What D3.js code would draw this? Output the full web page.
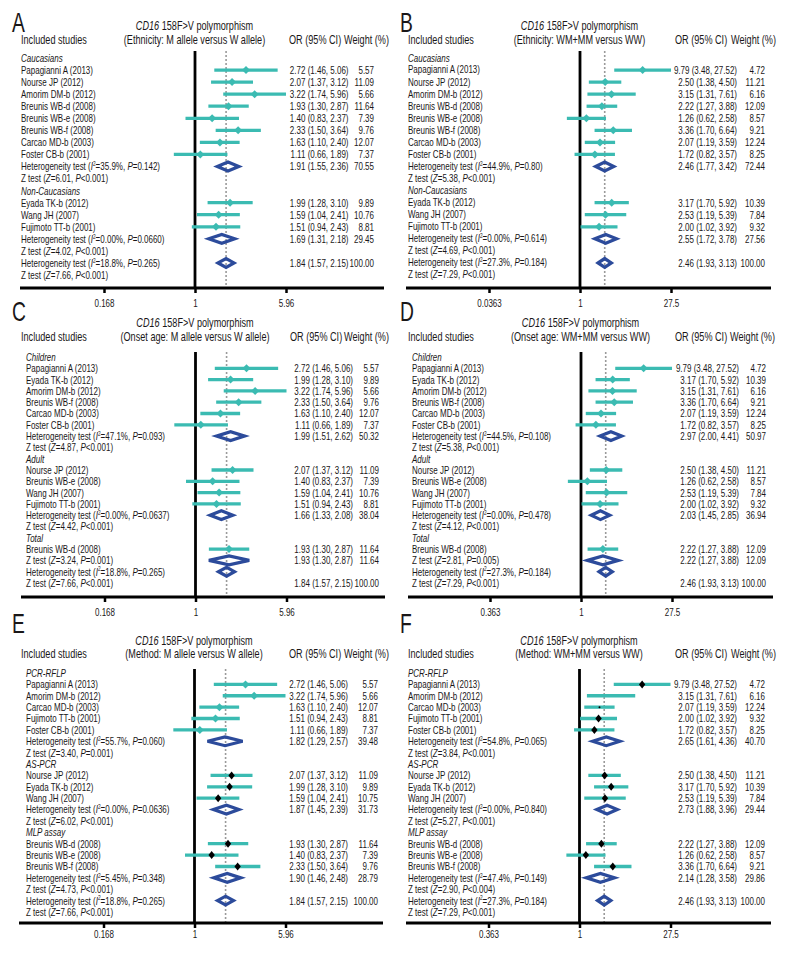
<!DOCTYPE html>
<html><head><meta charset="utf-8">
<script src="https://cdn.jsdelivr.net/npm/d3@7"></script>
<style>
body{margin:0;background:#fff}
svg{display:block}
text{font-family:"Liberation Sans Narrow","Arial Narrow","Liberation Sans",Arial,sans-serif;fill:#1a1718}
</style></head><body>
<svg id="chart" width="792" height="960"></svg>
<script>
// ---------------- DATA ----------------
const TITLE1 = "*CD16* 158F>V polymorphism";
const titles2 = ["(Ethnicity: M allele versus W allele)","(Ethnicity: WM+MM versus WW)",
  "(Onset age: M allele versus W allele)","(Onset age: WM+MM versus WW)",
  "(Method: M allele versus W allele)","(Method: WM+MM versus WW)"];
const letters = ["A","B","C","D","E","F"];
const tickValsM = [1/5.96, 1, 5.96];
const tickValsW = [1/27.5, 1, 27.5];
const tickLabA = ["0.168","1","5.96"];
const tickLabB = ["0.0363","1","27.5"];
const tickLabD = ["0.363","1","27.5"];

// Panel A
const A_labels = ["*Caucasians*","Papagianni A (2013)","Nourse JP (2012)","Amorim DM-b (2012)","Breunis WB-d (2008)","Breunis WB-e (2008)","Breunis WB-f (2008)","Carcao MD-b (2003)","Foster CB-b (2001)","Heterogeneity test (*I*^2^=35.9%, *P*=0.142)","Z test (*Z*=6.01, *P*<0.001)","*Non-Caucasians*","Eyada TK-b (2012)","Wang JH (2007)","Fujimoto TT-b (2001)","Heterogeneity test (*I*^2^=0.00%, *P*=0.0660)","Z test (*Z*=4.02, *P*<0.001)","Heterogeneity test (*I*^2^=18.8%, *P*=0.265)","Z test (*Z*=7.66, *P*<0.001)"];
const A_mark = ["","s","s","s","s","s","s","s","s","d","","","s","s","s","d","","d",""];
const A_est = [null,2.72,2.07,3.22,1.93,1.40,2.33,1.63,1.11,1.91,null,null,1.99,1.59,1.51,1.69,null,1.84,null];
const A_lo  = [null,1.46,1.37,1.74,1.30,0.83,1.50,1.10,0.66,1.55,null,null,1.28,1.04,0.94,1.31,null,1.57,null];
const A_hi  = [null,5.06,3.12,5.96,2.87,2.37,3.64,2.40,1.89,2.36,null,null,3.10,2.41,2.43,2.18,null,2.15,null];
const A_wt  = [null,5.57,11.09,5.66,11.64,7.39,9.76,12.07,7.37,70.55,null,null,9.89,10.76,8.81,29.45,null,100.00,null];

// Panel B
const B_labels = ["*Caucasians*","Papagianni A (2013)","Nourse JP (2012)","Amorim DM-b (2012)","Breunis WB-d (2008)","Breunis WB-e (2008)","Breunis WB-f (2008)","Carcao MD-b (2003)","Foster CB-b (2001)","Heterogeneity test (*I*^2^=44.9%, *P*=0.80)","Z test (*Z*=5.38, *P*<0.001)","*Non-Caucasians*","Eyada TK-b (2012)","Wang JH (2007)","Fujimoto TT-b (2001)","Heterogeneity test (*I*^2^=0.00%, *P*=0.614)","Z test (*Z*=4.69, *P*<0.001)","Heterogeneity test (*I*^2^=27.3%, *P*=0.184)","Z test (*Z*=7.29, *P*<0.001)"];
const B_mark = A_mark;
const B_est = [null,9.79,2.50,3.15,2.22,1.26,3.36,2.07,1.72,2.46,null,null,3.17,2.53,2.00,2.55,null,2.46,null];
const B_lo  = [null,3.48,1.38,1.31,1.27,0.62,1.70,1.19,0.82,1.77,null,null,1.70,1.19,1.02,1.72,null,1.93,null];
const B_hi  = [null,27.52,4.50,7.61,3.88,2.58,6.64,3.59,3.57,3.42,null,null,5.92,5.39,3.92,3.78,null,3.13,null];
const B_wt  = [null,4.72,11.21,6.16,12.09,8.57,9.21,12.24,8.25,72.44,null,null,10.39,7.84,9.32,27.56,null,100.00,null];

// Panel C
const C_labels = ["*Children*","Papagianni A (2013)","Eyada TK-b (2012)","Amorim DM-b (2012)","Breunis WB-f (2008)","Carcao MD-b (2003)","Foster CB-b (2001)","Heterogeneity test (*I*^2^=47.1%, *P*=0.093)","Z test (*Z*=4.87, *P*<0.001)","*Adult*","Nourse JP (2012)","Breunis WB-e (2008)","Wang JH (2007)","Fujimoto TT-b (2001)","Heterogeneity test (*I*^2^=0.00%, *P*=0.0637)","Z test (*Z*=4.42, *P*<0.001)","*Total*","Breunis WB-d (2008)","Z test (*Z*=3.24, *P*=0.001)","Heterogeneity test (*I*^2^=18.8%, *P*=0.265)","Z test (*Z*=7.66, *P*<0.001)"];
const C_mark = ["","s","s","s","s","s","s","d","","","s","s","s","s","d","","","s","d","D",""];
const C_est = [null,2.72,1.99,3.22,2.33,1.63,1.11,1.99,null,null,2.07,1.40,1.59,1.51,1.66,null,null,1.93,1.93,1.84,null];
const C_lo  = [null,1.46,1.28,1.74,1.50,1.10,0.66,1.51,null,null,1.37,0.83,1.04,0.94,1.33,null,null,1.30,1.30,1.57,null];
const C_hi  = [null,5.06,3.10,5.96,3.64,2.40,1.89,2.62,null,null,3.12,2.37,2.41,2.43,2.08,null,null,2.87,2.87,2.15,null];
const C_wt  = [null,5.57,9.89,5.66,9.76,12.07,7.37,50.32,null,null,11.09,7.39,10.76,8.81,38.04,null,null,11.64,11.64,100.00,null];

// Panel D
const D_labels = ["*Children*","Papagianni A (2013)","Eyada TK-b (2012)","Amorim DM-b (2012)","Breunis WB-f (2008)","Carcao MD-b (2003)","Foster CB-b (2001)","Heterogeneity test (*I*^2^=44.5%, *P*=0.108)","Z test (*Z*=5.38, *P*<0.001)","*Adult*","Nourse JP (2012)","Breunis WB-e (2008)","Wang JH (2007)","Fujimoto TT-b (2001)","Heterogeneity test (*I*^2^=0.00%, *P*=0.478)","Z test (*Z*=4.12, *P*<0.001)","*Total*","Breunis WB-d (2008)","Z test (*Z*=2.81, *P*=0.005)","Heterogeneity test (*I*^2^=27.3%, *P*=0.184)","Z test (*Z*=7.29, *P*<0.001)"];
const D_mark = C_mark;
const D_est = [null,9.79,3.17,3.15,3.36,2.07,1.72,2.97,null,null,2.50,1.26,2.53,2.00,2.03,null,null,2.22,2.22,2.46,null];
const D_lo  = [null,3.48,1.70,1.31,1.70,1.19,0.82,2.00,null,null,1.38,0.62,1.19,1.02,1.45,null,null,1.27,1.27,1.93,null];
const D_hi  = [null,27.52,5.92,7.61,6.64,3.59,3.57,4.41,null,null,4.50,2.58,5.39,3.92,2.85,null,null,3.88,3.88,3.13,null];
const D_wt  = [null,4.72,10.39,6.16,9.21,12.24,8.25,50.97,null,null,11.21,8.57,7.84,9.32,36.94,null,null,12.09,12.09,100.00,null];

// Panel E
const E_labels = ["*PCR-RFLP*","Papagianni A (2013)","Amorim DM-b (2012)","Carcao MD-b (2003)","Fujimoto TT-b (2001)","Foster CB-b (2001)","Heterogeneity test (*I*^2^=55.7%, *P*=0.060)","Z test (*Z*=3.40, *P*=0.001)","*AS-PCR*","Nourse JP (2012)","Eyada TK-b (2012)","Wang JH (2007)","Heterogeneity test (*I*^2^=0.00%, *P*=0.0636)","Z test (*Z*=6.02, *P*<0.001)","*MLP assay*","Breunis WB-d (2008)","Breunis WB-e (2008)","Breunis WB-f (2008)","Heterogeneity test (*I*^2^=5.45%, *P*=0.348)","Z test (*Z*=4.73, *P*<0.001)","Heterogeneity test (*I*^2^=18.8%, *P*=0.265)","Z test (*Z*=7.66, *P*<0.001)"];
const E_mark = ["","s","s","s","s","s","d","","","k","k","k","d","","","k","k","k","d","","d",""];
const E_est = [null,2.72,3.22,1.63,1.51,1.11,1.82,null,null,2.07,1.99,1.59,1.87,null,null,1.93,1.40,2.33,1.90,null,1.84,null];
const E_lo  = [null,1.46,1.74,1.10,0.94,0.66,1.29,null,null,1.37,1.28,1.04,1.45,null,null,1.30,0.83,1.50,1.46,null,1.57,null];
const E_hi  = [null,5.06,5.96,2.40,2.43,1.89,2.57,null,null,3.12,3.10,2.41,2.39,null,null,2.87,2.37,3.64,2.48,null,2.15,null];
const E_wt  = [null,5.57,5.66,12.07,8.81,7.37,39.48,null,null,11.09,9.89,10.75,31.73,null,null,11.64,7.39,9.76,28.79,null,100.00,null];

// Panel F
const F_labels = ["*PCR-RFLP*","Papagianni A (2013)","Amorim DM-b (2012)","Carcao MD-b (2003)","Fujimoto TT-b (2001)","Foster CB-b (2001)","Heterogeneity test (*I*^2^=54.8%, *P*=0.065)","Z test (*Z*=3.84, *P*<0.001)","*AS-PCR*","Nourse JP (2012)","Eyada TK-b (2012)","Wang JH (2007)","Heterogeneity test (*I*^2^=0.00%, *P*=0.840)","Z test (*Z*=5.27, *P*<0.001)","*MLP assay*","Breunis WB-d (2008)","Breunis WB-e (2008)","Breunis WB-f (2008)","Heterogeneity test (*I*^2^=47.4%, *P*=0.149)","Z test (*Z*=2.90, *P*<0.004)","Heterogeneity test (*I*^2^=27.3%, *P*=0.184)","Z test (*Z*=7.29, *P*<0.001)"];
const F_mark = ["","k","n","o","k","k","d","","","k","k","k","d","","","k","k","k","d","","d",""];
const F_est = [null,9.79,3.15,2.07,2.00,1.72,2.65,null,null,2.50,3.17,2.53,2.73,null,null,2.22,1.26,3.36,2.14,null,2.46,null];
const F_lo  = [null,3.48,1.31,1.19,1.02,0.82,1.61,null,null,1.38,1.70,1.19,1.88,null,null,1.27,0.62,1.70,1.28,null,1.93,null];
const F_hi  = [null,27.52,7.61,3.59,3.92,3.57,4.36,null,null,4.50,5.92,5.39,3.96,null,null,3.88,2.58,6.64,3.58,null,3.13,null];
const F_wt  = [null,4.72,6.16,12.24,9.32,8.25,40.70,null,null,11.21,10.39,7.84,29.44,null,null,12.09,8.57,9.21,29.86,null,100.00,null];

// ---------------- LAYOUT ----------------
const TEAL = "#3bbbb2", NAVY = "#2c4b9b";
const layouts = [
 {c:195,  axL:20,  axR:384, nameX:21,  headX:21,  orEnd:348.5, wtEnd:374, orHeadX:289, wtHeadEnd:389, letterX:12,  y0:58,  y1:275, top:51,  axisY:288, tickY:303, t1:25,  t2:39.5, letterY:32,  labelDy:0},
 {c:580,  axL:406, axR:771, nameX:408, headX:408, orEnd:737,   wtEnd:765, orHeadX:675, wtHeadEnd:776, letterX:400, y0:58,  y1:275, top:51,  axisY:288, tickY:303, t1:25,  t2:39.5, letterY:32,  labelDy:-0.5},
 {c:195.5,axL:21,  axR:385, nameX:26,  headX:21,  orEnd:353,   wtEnd:379, orHeadX:290, wtHeadEnd:389, letterX:12,  y0:357, y1:583, top:352, axisY:597, tickY:612, t1:322.5, t2:336,  letterY:321, labelDy:0},
 {c:581,  axL:408, axR:773, nameX:412, headX:408, orEnd:739,   wtEnd:766, orHeadX:675, wtHeadEnd:775, letterX:400, y0:357, y1:583, top:352, axisY:597, tickY:612, t1:322.5, t2:336,  letterY:321, labelDy:0},
 {c:194.5,axL:19,  axR:383, nameX:26,  headX:21,  orEnd:348,   wtEnd:378, orHeadX:289, wtHeadEnd:389, letterX:12,  y0:673, y1:912, top:669, axisY:923, tickY:934, t1:640, t2:653.5,  letterY:633, labelDy:0},
 {c:579.5,axL:406, axR:771, nameX:408, headX:408, orEnd:737,   wtEnd:765, orHeadX:675, wtHeadEnd:776, letterX:400, y0:673, y1:912, top:669, axisY:923, tickY:934, t1:640, t2:653.5,  letterY:633, labelDy:0}
];
const panelData = [
 {labels:A_labels, mark:A_mark, est:A_est, lo:A_lo, hi:A_hi, wt:A_wt, tv:tickValsM, tl:tickLabA},
 {labels:B_labels, mark:B_mark, est:B_est, lo:B_lo, hi:B_hi, wt:B_wt, tv:tickValsW, tl:tickLabB},
 {labels:C_labels, mark:C_mark, est:C_est, lo:C_lo, hi:C_hi, wt:C_wt, tv:tickValsM, tl:tickLabA},
 {labels:D_labels, mark:D_mark, est:D_est, lo:D_lo, hi:D_hi, wt:D_wt, tv:tickValsW, tl:tickLabD},
 {labels:E_labels, mark:E_mark, est:E_est, lo:E_lo, hi:E_hi, wt:E_wt, tv:tickValsM, tl:tickLabA},
 {labels:F_labels, mark:F_mark, est:F_est, lo:F_lo, hi:F_hi, wt:F_wt, tv:tickValsW, tl:tickLabD}
];

// ---------------- DRAW ----------------
const FS = 11.2, FH = 13;
const svg = d3.select("#chart");
function measure(str, size){
  const t = svg.append("text").style("font-size", size+"px").text(str);
  const w = t.node().getComputedTextLength(); t.remove(); return w;
}
const SX = 72 / measure("Papagianni A (2013)", FS);
const SXH = 66 / measure("Included studies", FH);
const f2 = d3.format(".2f");

function rich(g, x, yc, str, size, anchor, sx){
  const t = g.append("text")
    .attr("transform", `translate(${x},${yc + size*0.35}) scale(${sx},1)`)
    .attr("text-anchor", anchor || "start").style("font-size", size+"px");
  const parts = str.split(/(\*[^*]+\*|\^[^^]+\^)/).filter(s => s.length);
  let shifted = false;
  parts.forEach(p => {
    let s;
    if (p[0] === "^") {
      t.append("tspan").attr("dy", -size*0.38).style("font-size", (size*0.6)+"px").text(p.slice(1,-1));
      shifted = true; return;
    }
    if (p[0] === "*") s = t.append("tspan").style("font-style","italic").text(p.slice(1,-1));
    else s = t.append("tspan").text(p);
    if (shifted) { s.attr("dy", size*0.38); shifted = false; }
  });
  return t;
}
function diamond(xl, xc, xr, y, hh){ return `M${xl},${y}L${xc},${y-hh}L${xr},${y}L${xc},${y+hh}Z`; }

panelData.forEach((d, pi) => {
  const L = layouts[pi];
  const g = svg.append("g");
  const n = d.labels.length;
  const x = d3.scaleLog().domain([d.tv[0], d.tv[2]]).range([L.c - 91, L.c + 91]);
  const y = d3.scaleLinear().domain([0, n-1]).range([L.y0, L.y1]);
  const overall = d.est[d.est.length - 2];

  // letter, titles, headers
  g.append("text").attr("transform", `translate(${L.letterX},${L.letterY}) scale(${SX},1)`)
    .style("font-size","27px").text(letters[pi]);
  rich(g, L.c - 0.5, L.t1, TITLE1, FH, "middle", SXH);
  rich(g, L.c - 0.5, L.t2, titles2[pi], FH, "middle", SXH);
  rich(g, L.headX, L.t2, "Included studies", FH, "start", SXH);
  rich(g, L.orHeadX, L.t2, "OR (95% CI)", FH, "start", SXH);
  rich(g, L.wtHeadEnd, L.t2, "Weight (%)", FH, "end", SXH);

  // reference lines
  g.append("line").attr("x1", x(1)).attr("x2", x(1)).attr("y1", L.top).attr("y2", L.axisY)
    .attr("stroke","#000").attr("stroke-width",2.8);
  g.append("line").attr("x1", x(overall)).attr("x2", x(overall)).attr("y1", L.top).attr("y2", L.axisY)
    .attr("stroke","#9a9a9a").attr("stroke-width",1.6).attr("stroke-dasharray","2,2");

  // axis
  g.append("line").attr("x1", L.axL).attr("x2", L.axR).attr("y1", L.axisY).attr("y2", L.axisY)
    .attr("stroke","#000").attr("stroke-width",3);
  const axis = d3.axisBottom(x).tickValues(d.tv).tickFormat((v,i) => d.tl[i])
    .tickSize(5).tickSizeOuter(0).tickPadding(L.tickY - 4 - L.axisY - 5);
  const ag = g.append("g").attr("transform", `translate(0,${L.axisY})`).call(axis);
  ag.select(".domain").remove();
  ag.selectAll(".tick line").attr("stroke","#000").attr("stroke-width",2.5);
  ag.selectAll(".tick text").attr("transform", `scale(${SX},1)`)
    .style("font-size", FS+"px").style("font-family", null).attr("fill","#1a1718");

  // rows
  d.labels.forEach((lab, i) => {
    const yc = y(i);
    const ly = yc + (i > 0 ? L.labelDy : 0);
    rich(g, L.nameX, ly, lab, FS, "start", SX);
    const m = d.mark[i];
    if (d.est[i] === null) return;
    if (m === "d" || m === "D") {
      g.append("path").attr("d", diamond(x(d.lo[i]), x(d.est[i]), x(d.hi[i]), yc, 4.4))
        .attr("fill","none").attr("stroke", NAVY).attr("stroke-width",3.2).attr("stroke-linejoin","miter");
    } else {
      g.append("line").attr("x1", x(d.lo[i])).attr("x2", x(d.hi[i])).attr("y1", yc).attr("y2", yc)
        .attr("stroke", TEAL).attr("stroke-width",3.3);
      const xc = x(d.est[i]);
      if (m === "s") g.append("path").attr("d", diamond(xc-4, xc, xc+4, yc, 4)).attr("fill", TEAL);
      else if (m === "k") g.append("path").attr("d", diamond(xc-3.2, xc, xc+3.2, yc, 4)).attr("fill", "#000");
      else if (m === "o") g.append("circle").attr("cx", xc).attr("cy", yc).attr("r", 1).attr("fill","#000");
    }
    const ty = m === "D" ? y(i+1) : yc;
    rich(g, L.orEnd, ty, `${f2(d.est[i])} (${f2(d.lo[i])}, ${f2(d.hi[i])})`, FS, "end", SX);
    rich(g, L.wtEnd, ty, f2(d.wt[i]), FS, "end", SX);
  });
});
</script>
</body></html>
